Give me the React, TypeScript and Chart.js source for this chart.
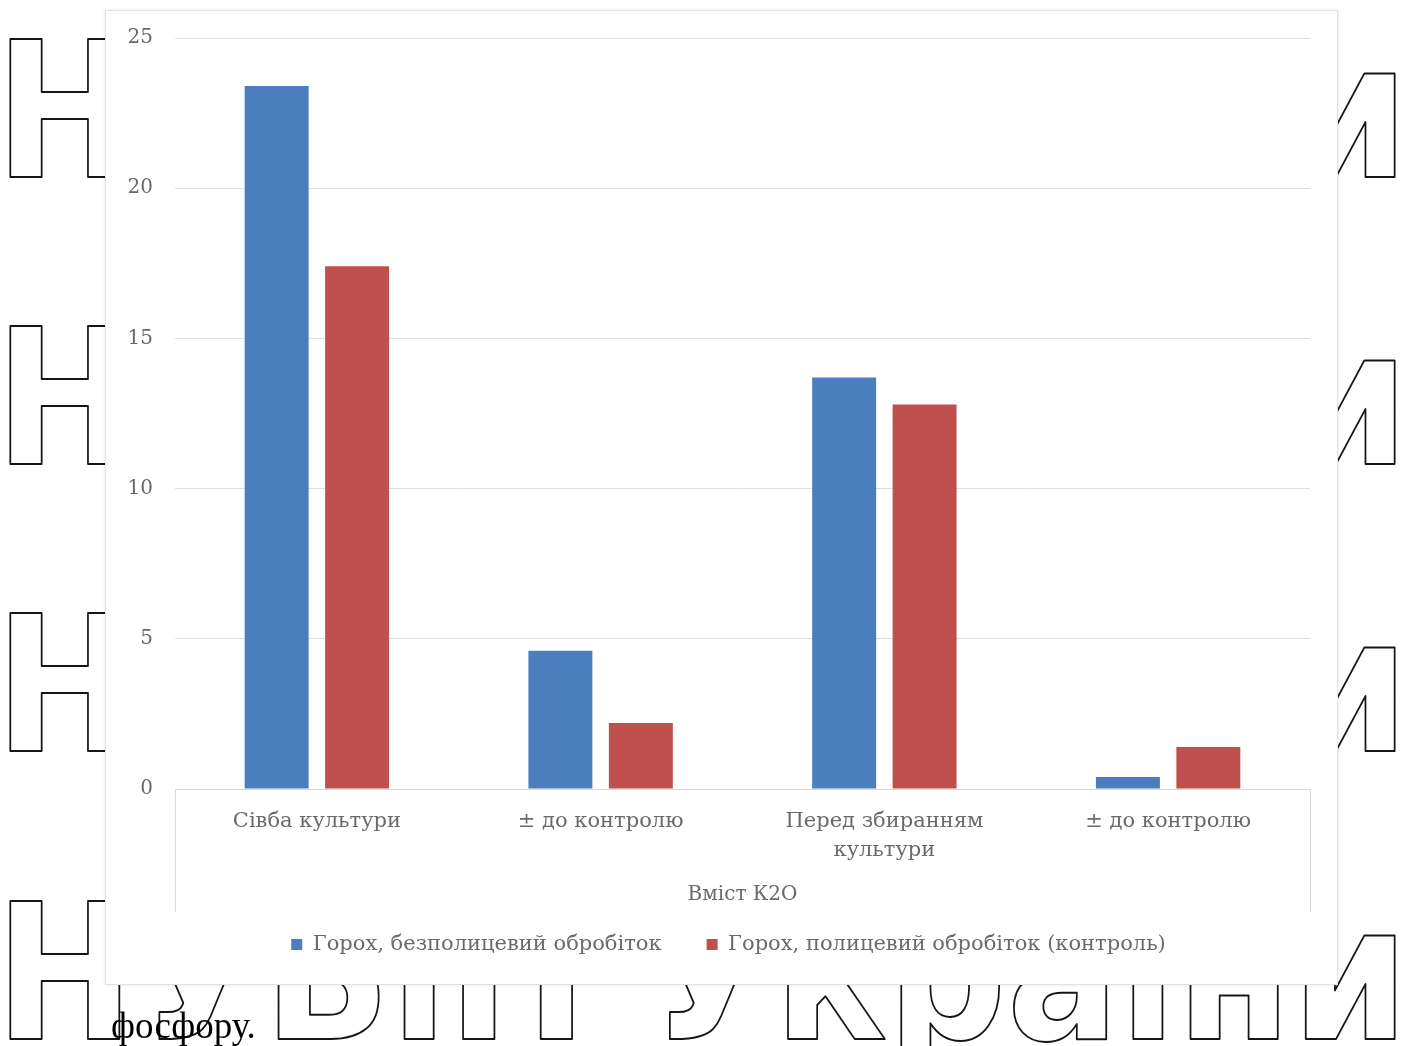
import React, { useEffect, useRef } from "react";
import { Chart, registerables } from "chart.js";

Chart.register(...registerables);

// Categories of the K2O content chart
const categories: (string | string[])[] = [
  "Сівба культури",
  "± до контролю",
  ["Перед збиранням", "культури"],
  "± до контролю",
];

const seriesNames = [
  "Горох, безполицевий обробіток",
  "Горох, полицевий обробіток (контроль)",
];

const noTillValues = [23.4, 4.6, 13.7, 0.4];
const ploughValues = [17.4, 2.2, 12.8, 1.4];

const yTicks = [0, 5, 10, 15, 20, 25];

const axisTitle = "Вміст К2О";
const watermarkText = "НУБіП України";
const pageText = "фосфору.";

const BLUE = "#4a7ebf";
const RED = "#c0504d";
const LABEL_FONT = '"DejaVu Serif", serif';
const LABEL_COLOR = "#6a6a6a";

// Thin frame lines at both ends of the category axis
const axisFrame = {
  id: "axisFrame",
  afterDraw(chart: any) {
    const { ctx, chartArea } = chart;
    ctx.save();
    ctx.strokeStyle = "#dcdcdc";
    ctx.lineWidth = 1;
    ctx.beginPath();
    const bottom = chartArea.bottom + 123;
    ctx.moveTo(Math.round(chartArea.left) + 0.5, chartArea.bottom);
    ctx.lineTo(Math.round(chartArea.left) + 0.5, bottom);
    ctx.moveTo(Math.round(chartArea.right) + 0.5, chartArea.bottom);
    ctx.lineTo(Math.round(chartArea.right) + 0.5, bottom);
    ctx.stroke();
    ctx.restore();
  },
};

// Centre the legend row under the whole chart frame rather than the plot
const legendShift = {
  id: "legendShift",
  beforeDraw(chart: any) {
    const lg = chart.legend;
    if (lg && !lg._shifted) {
      lg.left += 21;
      lg.right += 21;
      lg._shifted = true;
    }
  },
};

function drawBackdrop(canvas: HTMLCanvasElement) {
  const ctx = canvas.getContext("2d");
  if (!ctx) return;
  ctx.clearRect(0, 0, canvas.width, canvas.height);
  ctx.fillStyle = "#ffffff";
  ctx.fillRect(0, 0, canvas.width, canvas.height);

  // outlined watermark rows
  ctx.font = 'bold 189px "DejaVu Sans"';
  const m = ctx.measureText(watermarkText);
  const inkWidth = m.actualBoundingBoxLeft + m.actualBoundingBoxRight;
  const sx = 1385 / inkWidth;
  ctx.save();
  ctx.translate(10, 0);
  ctx.scale(sx, 1);
  ctx.strokeStyle = "#151515";
  ctx.lineWidth = 2;
  ctx.lineJoin = "round";
  [177, 464, 751, 1039].forEach((baseline) => {
    ctx.strokeText(watermarkText, m.actualBoundingBoxLeft, baseline);
  });
  ctx.restore();

  // body text line
  ctx.font = '37px "Liberation Serif", serif';
  ctx.fillStyle = "#000000";
  ctx.fillText(pageText, 111, 1038);
}

export default function App() {
  const bgRef = useRef<HTMLCanvasElement | null>(null);
  const chartRef = useRef<HTMLCanvasElement | null>(null);

  useEffect(() => {
    if (bgRef.current) drawBackdrop(bgRef.current);
    if (!chartRef.current) return;

    const chart = new Chart(chartRef.current, {
      type: "bar",
      data: {
        labels: categories,
        datasets: [
          {
            label: seriesNames[0],
            data: noTillValues,
            backgroundColor: BLUE,
            categoryPercentage: 0.567,
            barPercentage: 0.795,
          },
          {
            label: seriesNames[1],
            data: ploughValues,
            backgroundColor: RED,
            categoryPercentage: 0.567,
            barPercentage: 0.795,
          },
        ],
      },
      options: {
        responsive: false,
        animation: false,
        layout: { padding: { left: 0, right: 28, top: 28, bottom: 20 } },
        scales: {
          x: {
            grid: { display: false },
            border: { display: true, color: "#d9d9d9" },
            ticks: {
              color: LABEL_COLOR,
              font: { family: LABEL_FONT, size: 21, lineHeight: 1.38 },
              padding: 10,
              maxRotation: 0,
              autoSkip: false,
            },
            title: {
              display: true,
              text: axisTitle,
              color: LABEL_COLOR,
              font: { family: LABEL_FONT, size: 20, lineHeight: 1.2 },
              padding: { top: 0, bottom: -18 },
            },
            afterFit: (scale: any) => {
              scale.height = 100;
            },
          },
          y: {
            min: 0,
            max: 25,
            afterBuildTicks: (scale: any) => {
              scale.ticks = yTicks.map((v) => ({ value: v }));
            },
            grid: { color: "#dedede", drawTicks: true, tickLength: 6, tickColor: "rgba(0,0,0,0)" },
            border: { display: false },
            ticks: {
              color: LABEL_COLOR,
              font: { family: LABEL_FONT, size: 20 },
              padding: 16,
            },
            afterFit: (scale: any) => {
              scale.width = 70;
            },
          },
        },
        plugins: {
          legend: {
            position: "bottom",
            labels: {
              boxWidth: 11,
              boxHeight: 11,
              padding: 45,
              color: LABEL_COLOR,
              font: { family: LABEL_FONT, size: 21 },
            },
          },
          tooltip: { enabled: false },
        },
      },
      plugins: [axisFrame, legendShift],
    });

    const redraw = () => {
      if (bgRef.current) drawBackdrop(bgRef.current);
    };
    if ((document as any).fonts?.ready) (document as any).fonts.ready.then(redraw);

    return () => chart.destroy();
  }, []);

  return (
    <div style={{ position: "absolute", left: 0, top: 0, width: 1406, height: 1046, overflow: "hidden", background: "#fff" }}>
      <canvas ref={bgRef} width={1406} height={1046} style={{ position: "absolute", left: 0, top: 0 }} />
      <div
        style={{
          position: "absolute",
          left: 105,
          top: 10,
          width: 1233,
          height: 975,
          boxSizing: "border-box",
          background: "#ffffff",
          border: "1px solid #e2e2e2",
          boxShadow: "0 0 3px rgba(0,0,0,0.12)",
        }}
      />
      <canvas
        ref={chartRef}
        width={1233}
        height={975}
        style={{ position: "absolute", left: 105, top: 10, width: 1233, height: 975 }}
      />
    </div>
  );
}
